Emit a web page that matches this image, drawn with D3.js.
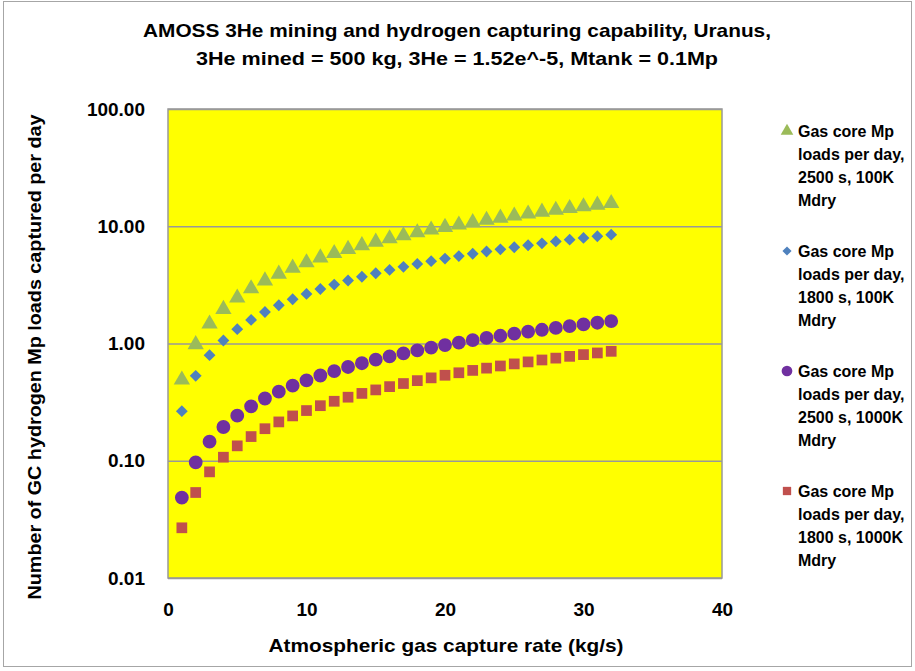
<!DOCTYPE html>
<html>
<head>
<meta charset="utf-8">
<script src="https://cdn.jsdelivr.net/npm/d3@7"></script>
<style>
  body { margin: 0; background: #fff; }
  svg text { font-family: "Liberation Sans", Arial, sans-serif; font-weight: bold; fill: #000; }
</style>
</head>
<body>
<svg id="chart" width="915" height="671"></svg>
<script>
//Capture rates (kg/s)
var captureRate = [1,2,3,4,5,6,7,8,9,10,11,12,13,14,15,16,17,18,19,20,21,22,23,24,25,26,27,28,29,30,31,32];

//Loads per day
var loads2500s100K = [0.49,0.98,1.47,1.96,2.45,2.94,3.43,3.92,4.41,4.90,5.39,5.88,6.37,6.86,7.35,7.84,8.33,8.82,9.31,9.80,10.29,10.78,11.27,11.76,12.25,12.74,13.23,13.72,14.21,14.70,15.19,15.68];
var loads1800s100K = [0.265,0.53,0.795,1.06,1.325,1.59,1.855,2.12,2.385,2.65,2.915,3.18,3.445,3.71,3.975,4.24,4.505,4.77,5.035,5.30,5.565,5.83,6.095,6.36,6.625,6.89,7.155,7.42,7.685,7.95,8.215,8.48];
var loads2500s1000K = [0.0485,0.097,0.1455,0.194,0.2425,0.291,0.3395,0.388,0.4365,0.485,0.5335,0.582,0.6305,0.679,0.7275,0.776,0.8245,0.873,0.9215,0.970,1.0185,1.067,1.1155,1.164,1.2125,1.261,1.3095,1.358,1.4065,1.455,1.5035,1.552];
var loads1800s1000K = [0.0268,0.0536,0.0804,0.1072,0.134,0.1608,0.1876,0.2144,0.2412,0.268,0.2948,0.3216,0.3484,0.3752,0.402,0.4288,0.4556,0.4824,0.5092,0.536,0.5628,0.5896,0.6164,0.6432,0.67,0.6968,0.7236,0.7504,0.7772,0.804,0.8308,0.8576];

var xTicks = [0, 10, 20, 30, 40];
var yTicks = [0.01, 0.1, 1, 10, 100];

var seriesNames = [
  ["Gas core Mp", "loads per day,", "2500 s, 100K", "Mdry"],
  ["Gas core Mp", "loads per day,", "1800 s, 100K", "Mdry"],
  ["Gas core Mp", "loads per day,", "2500 s, 1000K", "Mdry"],
  ["Gas core Mp", "loads per day,", "1800 s, 1000K", "Mdry"]
];

//Diamond is a square turned 45 degrees, like the Excel marker
var series = [
  { values: loads2500s100K, color: "#9BBB59", shape: d3.symbolTriangle, size: 115, rot: 0 },
  { values: loads1800s100K, color: "#4F81BD", shape: d3.symbolSquare, size: 70, rot: 45 },
  { values: loads2500s1000K, color: "#7030A0", shape: d3.symbolCircle, size: 150, rot: 0 },
  { values: loads1800s1000K, color: "#C0504D", shape: d3.symbolSquare, size: 115, rot: 0 }
];

var svg = d3.select("svg#chart");

//Outer chart border
svg.append("rect")
    .attr("x", 3.5).attr("y", 1.5)
    .attr("width", 908).attr("height", 665)
    .style("fill", "#fff")
    .style("stroke", "#a6a6a6");

var plot = { left: 168, right: 722, top: 109, bottom: 578 };

var x = d3.scaleLinear().domain([0, 40]).range([plot.left, plot.right]);
var y = d3.scaleLog().domain([0.01, 100]).range([plot.bottom, plot.top]);

//Yellow plot area
svg.append("rect")
    .attr("x", plot.left).attr("y", plot.top)
    .attr("width", plot.right - plot.left).attr("height", plot.bottom - plot.top)
    .style("fill", "#ffff00")
    .style("stroke", "#999")
    .style("stroke-width", 1.5);

//Horizontal gridlines
svg.append("g")
    .attr("transform", "translate(" + plot.left + ",0)")
    .call(d3.axisLeft(y).tickValues(yTicks).tickSize(-(plot.right - plot.left)).tickFormat(""))
    .call(function (g) { g.select(".domain").remove(); })
    .selectAll("line")
      .style("stroke", "#999")
      .style("stroke-width", 1.5);

//Y tick labels
svg.append("g")
    .attr("transform", "translate(" + plot.left + ",0)")
    .call(d3.axisLeft(y).tickValues(yTicks).tickSize(0).tickPadding(23).tickFormat(d3.format(".2f")))
    .call(function (g) {
      g.select(".domain").remove();
      g.selectAll("text").style("font-size", "19px").style("font-family", "Liberation Sans, Arial, sans-serif");
    });

//X tick labels
svg.append("g")
    .attr("transform", "translate(0," + plot.bottom + ")")
    .call(d3.axisBottom(x).tickValues(xTicks).tickSize(0).tickPadding(25))
    .call(function (g) {
      g.select(".domain").remove();
      g.selectAll("text").style("font-size", "19px").style("font-family", "Liberation Sans, Arial, sans-serif");
    });

//Title
var title = svg.append("text")
    .attr("text-anchor", "middle")
    .style("font-size", "19px");
title.append("tspan").attr("x", 457).attr("y", 37)
    .attr("textLength", 628).attr("lengthAdjust", "spacingAndGlyphs")
    .text("AMOSS 3He mining and hydrogen capturing capability, Uranus,");
title.append("tspan").attr("x", 457).attr("y", 65)
    .attr("textLength", 522).attr("lengthAdjust", "spacingAndGlyphs")
    .text("3He mined = 500 kg, 3He = 1.52e^-5, Mtank = 0.1Mp");

//Axis titles
svg.append("text")
    .attr("x", 446).attr("y", 652)
    .attr("text-anchor", "middle")
    .attr("textLength", 355).attr("lengthAdjust", "spacingAndGlyphs")
    .style("font-size", "19px")
    .text("Atmospheric gas capture rate (kg/s)");

svg.append("text")
    .attr("transform", "translate(41,357) rotate(-90)")
    .attr("text-anchor", "middle")
    .attr("textLength", 485).attr("lengthAdjust", "spacingAndGlyphs")
    .style("font-size", "19px")
    .text("Number of GC hydrogen Mp loads captured per day");

//Data points
series.forEach(function (s) {
  svg.append("g").selectAll("path")
    .data(s.values)
    .enter().append("path")
      .attr("transform", function (d, i) { return "translate(" + x(captureRate[i]) + "," + y(d) + ") rotate(" + s.rot + ")"; })
      .attr("d", d3.symbol().type(s.shape).size(s.size))
      .style("fill", s.color);
});

//Legend
var legend = svg.append("g").selectAll("g")
  .data(series)
  .enter().append("g")
    .attr("transform", function (d, i) { return "translate(787," + (131 + i * 120) + ")"; });

legend.append("path")
    .attr("transform", function (d) { return "rotate(" + d.rot + ")"; })
    .attr("d", function (d) { return d3.symbol().type(d.shape).size(d.size * 0.6)(); })
    .style("fill", function (d) { return d.color; });

legend.append("text")
    .style("font-size", "16px")
  .selectAll("tspan")
  .data(function (d, i) { return seriesNames[i]; })
  .enter().append("tspan")
    .attr("x", 11)
    .attr("y", function (d, i) { return 6 + i * 23; })
    .text(function (d) { return d; });
</script>
</body>
</html>
